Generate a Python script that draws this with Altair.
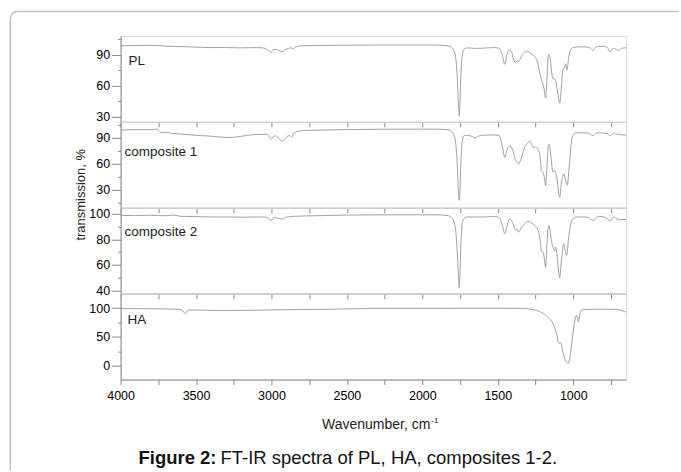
import altair as alt
import pandas as pd

# ---------------- data ----------------
PANELS = ["PL", "composite 1", "composite 2", "HA"]

PL_WN = [4000, 3900, 3800, 3750, 3700, 3600, 3500, 3400, 3300, 3200, 3100, 3050, 3020, 3001, 2985, 2960, 2931, 2905,
         2870, 2856, 2840, 2800, 2600, 2400, 2200, 2000, 1900, 1830, 1800, 1780, 1768, 1760, 1756, 1752, 1745, 1735,
         1725, 1700, 1650, 1600, 1520, 1490, 1470, 1454, 1440, 1425, 1410, 1395, 1381, 1372, 1362, 1345, 1330, 1310,
         1295, 1270, 1250, 1235, 1222, 1211, 1195, 1183, 1175, 1166, 1160, 1152, 1140, 1134, 1125, 1118, 1105, 1090,
         1078, 1068, 1057, 1050, 1042, 1030, 1015, 1000, 960, 920, 890, 870, 855, 830, 800, 775, 755, 740, 727, 712,
         698, 680, 660, 650]
PL_T = [98.5, 98.8, 99, 98.8, 98.2, 97.8, 97.2, 96.8, 96.8, 96.5, 96.8, 96.3, 94, 92.5, 95, 94.5, 92.8, 95,
        96.5, 95.5, 97.5, 98.5, 99, 99.2, 99.3, 99.3, 99.2, 98.5, 96, 88, 65, 40, 31, 40, 70, 90,
        95, 96.5, 96, 96.2, 96.8, 96, 90, 80.5, 90, 94.5, 93, 85, 82.5, 84, 83.5, 88, 91, 93,
        92.5, 90, 87, 82, 72, 66, 58, 48, 65, 88, 90.5, 85, 70, 67, 67, 65, 55, 43,
        60, 76, 78, 81, 75, 88, 95, 97, 97.5, 97.5, 96.5, 94, 96.5, 98, 98, 97, 92.5, 95.5, 96, 95,
        94, 96, 96.5, 96.5]

C1_WN = [4000, 3900, 3800, 3770, 3757, 3745, 3735, 3700, 3650, 3600, 3500, 3400, 3294, 3250, 3162, 3100, 3030, 3015,
         3001, 2985, 2974, 2950, 2931, 2910, 2890, 2876, 2865, 2854, 2810, 2700, 2500, 2300, 2000, 1900, 1830, 1800,
         1780, 1768, 1760, 1756, 1752, 1745, 1735, 1725, 1700, 1670, 1652, 1630, 1597, 1520, 1490, 1470, 1454, 1440,
         1421, 1400, 1381, 1370, 1362, 1350, 1335, 1322, 1300, 1289, 1278, 1267, 1250, 1233, 1220, 1211, 1200, 1190,
         1183, 1175, 1166, 1161, 1152, 1140, 1134, 1123, 1110, 1090, 1078, 1063, 1052, 1040, 1025, 1010, 995, 980,
         940, 900, 870, 850, 830, 800, 775, 755, 740, 727, 712, 698, 680, 650]
C1_T = [98.5, 99, 99, 99.5, 100, 97, 95.7, 96, 94.5, 94, 92.5, 91.5, 90, 90.2, 92.5, 93.5, 93.8, 91,
        88, 91.5, 92, 89, 86, 88, 92, 92, 90.5, 94.5, 97.7, 98.5, 99, 99.5, 99.6, 99.6, 99, 96,
        85, 55, 25, 17.5, 25, 60, 87, 92, 92.5, 91, 89.5, 91.5, 92.7, 93, 92, 80, 67, 75,
        80.5, 75, 63, 62, 59.5, 63, 72, 78.5, 84, 86, 83, 78.5, 79, 76.8, 68, 52, 50, 42,
        34.7, 55, 80, 82.4, 75, 55, 50, 52, 45, 21, 38, 48, 42, 35, 60, 88, 94, 95.5,
        95.5, 95, 92, 95, 95.5, 95, 94.5, 92, 94, 95, 93.5, 94, 93, 93]

C2_WN = [4000, 3900, 3800, 3700, 3650, 3600, 3500, 3400, 3300, 3200, 3100, 3040, 3015, 3001, 2985, 2960, 2931, 2905,
         2850, 2700, 2500, 2200, 2000, 1900, 1830, 1800, 1780, 1768, 1760, 1756, 1752, 1745, 1735, 1725, 1700, 1600,
         1520, 1490, 1470, 1454, 1440, 1421, 1405, 1390, 1381, 1372, 1362, 1345, 1322, 1300, 1289, 1278, 1267, 1250,
         1233, 1220, 1211, 1200, 1190, 1183, 1175, 1166, 1161, 1152, 1140, 1134, 1123, 1117, 1108, 1090, 1078, 1063,
         1052, 1044, 1030, 1015, 1002, 980, 930, 900, 870, 850, 830, 800, 775, 755, 740, 727, 712, 698, 680, 650]
C2_T = [98.7, 98.6, 98.8, 98.5, 99, 98, 97.8, 97.5, 97.5, 97.3, 97.5, 97.4, 96, 94.8, 97, 96.5, 95.8, 97.3,
        98, 98.5, 99, 99.2, 99.2, 99.2, 98.5, 96, 88, 68, 50, 42, 50, 75, 93, 96, 97.5, 97.5,
        97.8, 97, 91, 84.4, 90, 96, 94, 89, 87, 88, 85.7, 89, 92, 94, 94, 93, 92, 90,
        87, 80, 71, 70, 63, 58, 75, 89, 90.9, 85, 76, 74, 71, 74, 68, 50, 64, 76.5,
        71, 67.4, 82, 93, 96, 97.5, 97.5, 97, 94.8, 96.5, 98, 97.5, 96.5, 94, 96.5, 97.5, 96, 95.5, 95.5, 95.5]

HA_WN = [4000, 3900, 3800, 3700, 3620, 3590, 3570, 3560, 3540, 3500, 3400, 3300, 3200, 3100, 3000, 2800, 2600, 2500,
         2300, 2100, 1900, 1700, 1500, 1350, 1280, 1244, 1200, 1160, 1134, 1110, 1094, 1084, 1073, 1060, 1045, 1035,
         1025, 1012, 1002, 990, 980, 972, 965, 958, 948, 930, 850, 760, 700, 660, 650]
HA_T = [99, 99, 98.8, 98.5, 98, 96, 90, 95, 97, 96.5, 96, 95.8, 96, 96.3, 96.8, 97.5, 98, 98.5,
        99.5, 99.5, 99.5, 99.7, 99.7, 99.5, 98, 96, 91, 82, 73, 55, 38, 40, 29, 15, 6, 4,
        10, 35, 55, 78, 87, 83, 75.6, 88, 96, 97.5, 98, 98, 97, 94, 93]

SERIES_WN = [PL_WN, C1_WN, C2_WN, HA_WN]
SERIES_T = [PL_T, C1_T, C2_T, HA_T]
Y_DOMAINS = [[25, 108], [9, 108], [37.4, 104.7], [-24.4, 125]]
Y_TICKS = [[30, 45, 60, 75, 90, 105], [15, 30, 45, 60, 75, 90, 105], [40, 50, 60, 70, 80, 90, 100],
           [0, 25, 50, 75, 100]]
Y_LABEL_STEP = [30, 30, 20, 50]
X_TICKS = [4000, 3750, 3500, 3250, 3000, 2750, 2500, 2250, 2000, 1750, 1500, 1250, 1000, 750]

CAPTION_BOLD = "Figure 2:"
CAPTION_REST = "FT-IR spectra of PL, HA, composites 1-2."
X_TITLE = "Wavenumber, cm"
X_TITLE_SUP = "-1"
Y_TITLE = "transmission, %"

# ---------------- style ----------------
FONT = "Liberation Sans"
W, H = 506, 86
LINE_COLOR = "#8a8a8a"
FRAME = "#c4c4c4"
LABEL_POS = [(8, 25), (4, 30), (4, 24), (7, 26)]


def one():
    return pd.DataFrame([{"k": 0}])


panels = []
for i, name in enumerate(PANELS):
    df = pd.DataFrame({"wn": SERIES_WN[i], "T": SERIES_T[i]})
    last = i == len(PANELS) - 1
    step = Y_LABEL_STEP[i]
    xaxis = alt.Axis(
        values=X_TICKS, labels=last, format="d", title=None, tickSize=5,
        labelExpr="datum.value % 500 == 0 ? datum.label : ''",
        labelPadding=5, labelFontSize=12.5, grid=False, labelFlush=False, labelOverlap=False,
    )
    yaxis = alt.Axis(
        values=Y_TICKS[i], title=None, grid=False,
        labelExpr=f"datum.value % {step} == 0 ? datum.label : ''",
        tickSize={"condition": {"test": f"datum.value % {step} == 0", "value": 9}, "value": 3},
        labelPadding=2, labelFontSize=12.5, labelFlush=False, labelOverlap=False,
    )
    line = alt.Chart(df).mark_line(color=LINE_COLOR, strokeWidth=0.8, interpolate="monotone").encode(
        x=alt.X("wn:Q", scale=alt.Scale(domain=[650, 4000], reverse=True, nice=False, zero=False), axis=xaxis),
        y=alt.Y("T:Q", scale=alt.Scale(domain=Y_DOMAINS[i], nice=False, zero=False), axis=yaxis),
    )
    lx, ly = LABEL_POS[i]
    lab = alt.Chart(pd.DataFrame({"t": [name]})).mark_text(
        align="left", baseline="middle", font=FONT, fontSize=13.5, color="#222"
    ).encode(x=alt.value(lx), y=alt.value(ly), text="t:N")
    layers = [line, lab]

    if i == 2:
        yt = alt.Chart(pd.DataFrame({"t": [Y_TITLE]})).mark_text(
            align="center", baseline="middle", angle=270, font=FONT, fontSize=13, color="#222"
        ).encode(x=alt.value(-40), y=alt.value(-13), text="t:N")
        layers.append(yt)

    if last:
        xt = alt.Chart(pd.DataFrame({"t": [X_TITLE]})).mark_text(
            align="right", baseline="alphabetic", font=FONT, fontSize=14, color="#222"
        ).encode(x=alt.value(310), y=alt.value(135), text="t:N")
        xs = alt.Chart(pd.DataFrame({"t": [X_TITLE_SUP]})).mark_text(
            align="left", baseline="alphabetic", font=FONT, fontSize=8, color="#222"
        ).encode(x=alt.value(311), y=alt.value(129), text="t:N")
        cb = alt.Chart(pd.DataFrame({"t": [CAPTION_BOLD]})).mark_text(
            align="right", baseline="alphabetic", font=FONT, fontSize=18.5, fontWeight="bold", color="#111"
        ).encode(x=alt.value(96), y=alt.value(171), text="t:N")
        cr = alt.Chart(pd.DataFrame({"t": [CAPTION_REST]})).mark_text(
            align="left", baseline="alphabetic", font=FONT, fontSize=18.5, color="#111"
        ).encode(x=alt.value(100), y=alt.value(171), text="t:N")
        fl = alt.Chart(one()).mark_rule(color=FRAME, strokeWidth=1.5).encode(
            x=alt.value(-110.5), y=alt.value(-275), y2=alt.value(177))
        ft = alt.Chart(one()).mark_rule(color=FRAME, strokeWidth=1.5).encode(
            y=alt.value(-282.5), x=alt.value(-103), x2=alt.value(559))
        fa = alt.Chart(one()).mark_arc(
            theta=4.7124, theta2=6.2832, outerRadius=8.25, innerRadius=6.75, color=FRAME
        ).encode(x=alt.value(-103), y=alt.value(-275))
        layers += [xt, xs, cb, cr, fl, ft, fa]

    panels.append(alt.layer(*layers).properties(width=W, height=H))

chart = alt.vconcat(*panels, spacing=0, bounds="flush").properties(
    padding={"left": 8.75, "top": 9.75, "right": 0, "bottom": 0}
).configure_view(stroke=None).configure_axis(
    domainColor="#000", domainWidth=1.5, tickColor="#000", tickWidth=1.2,
    labelFont=FONT, labelColor="#222", titleFont=FONT,
).configure(background="white")

chart.save("out.html", embed_options={"renderer": "svg", "actions": False})
